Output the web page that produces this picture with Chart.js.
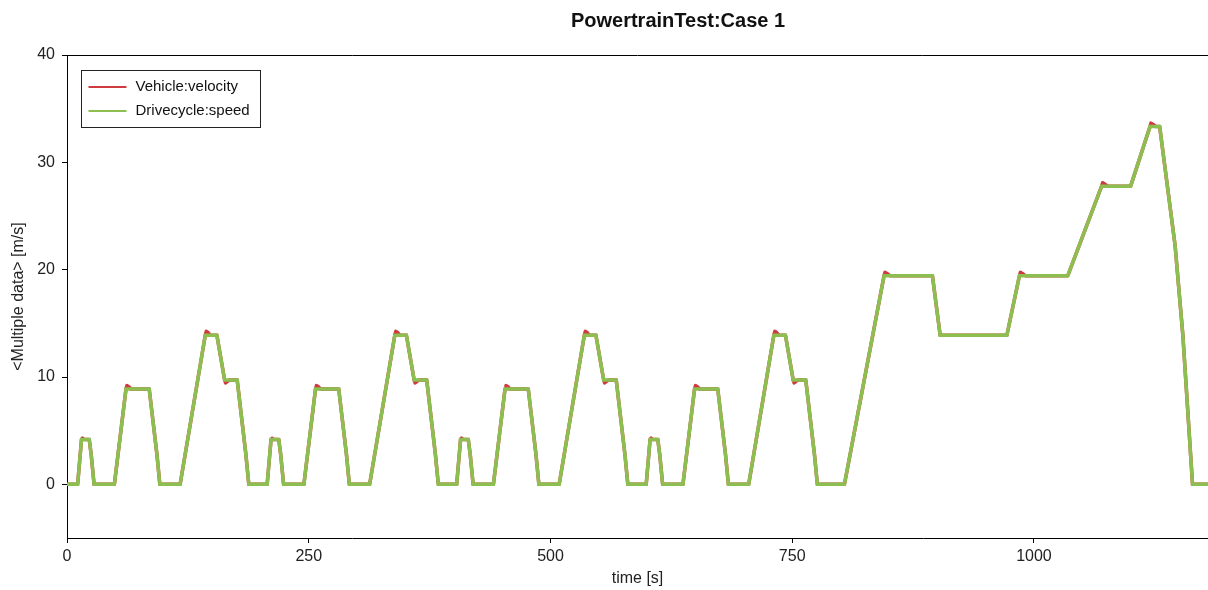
<!DOCTYPE html>
<html>
<head>
<meta charset="utf-8">
<title>PowertrainTest:Case 1</title>
<script src="https://cdn.jsdelivr.net/npm/chart.js@4.4.1/dist/chart.umd.min.js"></script>
<style>
  html, body { margin: 0; padding: 0; background: #fff; }
  #wrap { position: relative; width: 1208px; height: 590px; }
</style>
</head>
<body>
<div id="wrap"><canvas id="chart"></canvas></div>
<script>
// Chart text
const chartTitle = 'PowertrainTest:Case 1';
const xAxisTitle = 'time [s]';
const yAxisTitle = '<Multiple data> [m/s]';
const xTickValues = [0, 250, 500, 750, 1000];
const yTickValues = [0, 10, 20, 30, 40];

// Drivecycle:speed  (time [s], speed [m/s])
const cycleTime = [
    0, 11, 15, 23, 25, 28, 49, 61, 85, 93, 96, 117, 143, 155, 163, 176, 185, 188,
    196, 207, 211, 219, 221, 224, 245, 257, 281, 289, 292, 313, 339, 351, 359, 372, 381, 384,
    392, 403, 407, 415, 417, 420, 441, 453, 477, 485, 488, 509, 535, 547, 555, 568, 577, 580,
    588, 599, 603, 611, 613, 616, 637, 649, 673, 681, 684, 705, 731, 743, 751, 764, 773, 776,
    804, 845, 895, 903, 972, 985, 1035, 1070, 1100, 1120, 1130, 1146, 1154, 1164, 1180
];
const cycleSpeed = [
    0, 0, 4.17, 4.17, 2.78, 0, 0, 8.89, 8.89, 2.78, 0, 0, 13.89, 13.89, 9.72, 9.72, 2.78, 0,
    0, 0, 4.17, 4.17, 2.78, 0, 0, 8.89, 8.89, 2.78, 0, 0, 13.89, 13.89, 9.72, 9.72, 2.78, 0,
    0, 0, 4.17, 4.17, 2.78, 0, 0, 8.89, 8.89, 2.78, 0, 0, 13.89, 13.89, 9.72, 9.72, 2.78, 0,
    0, 0, 4.17, 4.17, 2.78, 0, 0, 8.89, 8.89, 2.78, 0, 0, 13.89, 13.89, 9.72, 9.72, 2.78, 0,
    0, 19.44, 19.44, 13.89, 13.89, 19.44, 19.44, 27.78, 27.78, 33.33, 33.33, 22.22, 13.89, 0, 0
];

// Vehicle:velocity  (time [s], velocity [m/s]) - small overshoot at each plateau
const vehicleTime = [
    0, 11, 15, 16, 18, 23, 25, 28, 49, 61, 62, 64, 66, 85, 93, 96, 117, 143, 144, 146, 148, 155, 163, 164, 166, 168, 176, 185, 188,
    196, 207, 211, 212, 214, 219, 221, 224, 245, 257, 258, 260, 262, 281, 289, 292, 313, 339, 340, 342, 344, 351, 359, 360, 362, 364, 372, 381, 384,
    392, 403, 407, 408, 410, 415, 417, 420, 441, 453, 454, 456, 458, 477, 485, 488, 509, 535, 536, 538, 540, 547, 555, 556, 558, 560, 568, 577, 580,
    588, 599, 603, 604, 606, 611, 613, 616, 637, 649, 650, 652, 654, 673, 681, 684, 705, 731, 732, 734, 736, 743, 751, 752, 754, 756, 764, 773, 776,
    804, 845, 846, 848, 851, 895, 903, 972, 985, 986, 988, 991, 1035, 1070, 1071, 1073, 1076, 1100, 1120, 1121, 1123, 1126, 1130, 1146, 1154, 1164, 1180
];
const vehicleSpeed = [
    0, 0, 4.17, 4.3, 4.17, 4.17, 2.78, 0, 0, 8.89, 9.2, 9.1, 8.89, 8.89, 2.78, 0, 0, 13.89, 14.25, 14.15, 13.89, 13.89, 9.72, 9.45, 9.6, 9.72, 9.72, 2.78, 0,
    0, 0, 4.17, 4.3, 4.17, 4.17, 2.78, 0, 0, 8.89, 9.2, 9.1, 8.89, 8.89, 2.78, 0, 0, 13.89, 14.25, 14.15, 13.89, 13.89, 9.72, 9.45, 9.6, 9.72, 9.72, 2.78, 0,
    0, 0, 4.17, 4.3, 4.17, 4.17, 2.78, 0, 0, 8.89, 9.2, 9.1, 8.89, 8.89, 2.78, 0, 0, 13.89, 14.25, 14.15, 13.89, 13.89, 9.72, 9.45, 9.6, 9.72, 9.72, 2.78, 0,
    0, 0, 4.17, 4.3, 4.17, 4.17, 2.78, 0, 0, 8.89, 9.2, 9.1, 8.89, 8.89, 2.78, 0, 0, 13.89, 14.25, 14.15, 13.89, 13.89, 9.72, 9.45, 9.6, 9.72, 9.72, 2.78, 0,
    0, 19.44, 19.75, 19.65, 19.44, 19.44, 13.89, 13.89, 19.44, 19.75, 19.65, 19.44, 19.44, 27.78, 28.1, 28.0, 27.78, 27.78, 33.33, 33.65, 33.55, 33.33, 33.33, 22.22, 13.89, 0, 0
];

const redColor = '#cf3b3f';
const greenColor = '#8cbf50';
const textFont = 'Arial, "Liberation Sans", sans-serif';

function toPoints(times, values) {
    return times.map((t, i) => ({ x: t, y: values[i] }));
}

// Title, top frame line and boxed legend
const chartDecor = {
    id: 'chartDecor',
    afterDraw(chart) {
        const ctx = chart.ctx;
        const area = chart.chartArea;
        ctx.save();

        ctx.strokeStyle = '#000';
        ctx.lineWidth = 1;
        ctx.beginPath();
        ctx.moveTo(area.left, area.top + 0.5);
        ctx.lineTo(area.right, area.top + 0.5);
        ctx.stroke();

        // title sits a bit right of the visible plot centre, like the source
        ctx.fillStyle = '#111';
        ctx.font = 'bold 20px ' + textFont;
        ctx.textAlign = 'center';
        ctx.textBaseline = 'alphabetic';
        ctx.fillText(chartTitle, 678, 27);

        // legend box
        const bx = area.left + 14.5, by = area.top + 15.5, bw = 179, bh = 57;
        ctx.fillStyle = '#fff';
        ctx.fillRect(bx, by, bw, bh);
        ctx.strokeStyle = '#222';
        ctx.strokeRect(bx, by, bw, bh);
        ctx.font = '15px ' + textFont;
        ctx.textAlign = 'left';
        ctx.textBaseline = 'middle';
        chart.data.datasets.forEach((ds, i) => {
            const y = by + 16.5 + i * 24;
            ctx.strokeStyle = ds.borderColor;
            ctx.lineWidth = 2;
            ctx.beginPath();
            ctx.moveTo(bx + 7, y);
            ctx.lineTo(bx + 45, y);
            ctx.stroke();
            ctx.fillStyle = '#111';
            ctx.fillText(ds.label, bx + 54, y);
        });
        ctx.restore();
    }
};

new Chart(document.getElementById('chart'), {
    type: 'line',
    data: {
        datasets: [
            {
                label: 'Vehicle:velocity',
                data: toPoints(vehicleTime, vehicleSpeed),
                borderColor: redColor,
                borderWidth: 3.5,
                borderJoinStyle: 'round',
                pointRadius: 0,
                tension: 0,
                order: 2
            },
            {
                label: 'Drivecycle:speed',
                data: toPoints(cycleTime, cycleSpeed),
                borderColor: greenColor,
                borderWidth: 3.5,
                pointRadius: 0,
                tension: 0,
                order: 1
            }
        ]
    },
    options: {
        responsive: true,
        maintainAspectRatio: false,
        animation: false,
        layout: { padding: { top: 55, right: 0, left: 0, bottom: 0 } },
        plugins: {
            legend: { display: false },
            title: { display: false },
            tooltip: { enabled: false }
        },
        scales: {
            x: {
                type: 'linear',
                min: 0,
                max: 1180,
                afterBuildTicks: scale => { scale.ticks = xTickValues.map(v => ({ value: v })); },
                afterFit: scale => { scale.height = 52; },
                grid: { drawOnChartArea: false, drawTicks: true, tickLength: 5, color: '#000' },
                border: { display: true, color: '#000', width: 1 },
                ticks: { color: '#222', padding: 4, maxRotation: 0, font: { family: textFont, size: 16 }, callback: v => String(v) },
                title: { display: true, text: xAxisTitle, color: '#222', padding: { top: 0, bottom: 2 }, font: { family: textFont, size: 16 } }
            },
            y: {
                min: -5,
                max: 40,
                afterBuildTicks: scale => { scale.ticks = yTickValues.map(v => ({ value: v })); },
                afterFit: scale => { scale.width = 67; },
                grid: { drawOnChartArea: false, drawTicks: true, tickLength: 5, color: '#000' },
                border: { display: true, color: '#000', width: 1 },
                ticks: { color: '#222', padding: 7, font: { family: textFont, size: 16 }, callback: v => String(v) },
                title: { display: true, text: yAxisTitle, color: '#222', padding: { top: 9, bottom: 0 }, font: { family: textFont, size: 16 } }
            }
        }
    },
    plugins: [chartDecor]
});
</script>
</body>
</html>
